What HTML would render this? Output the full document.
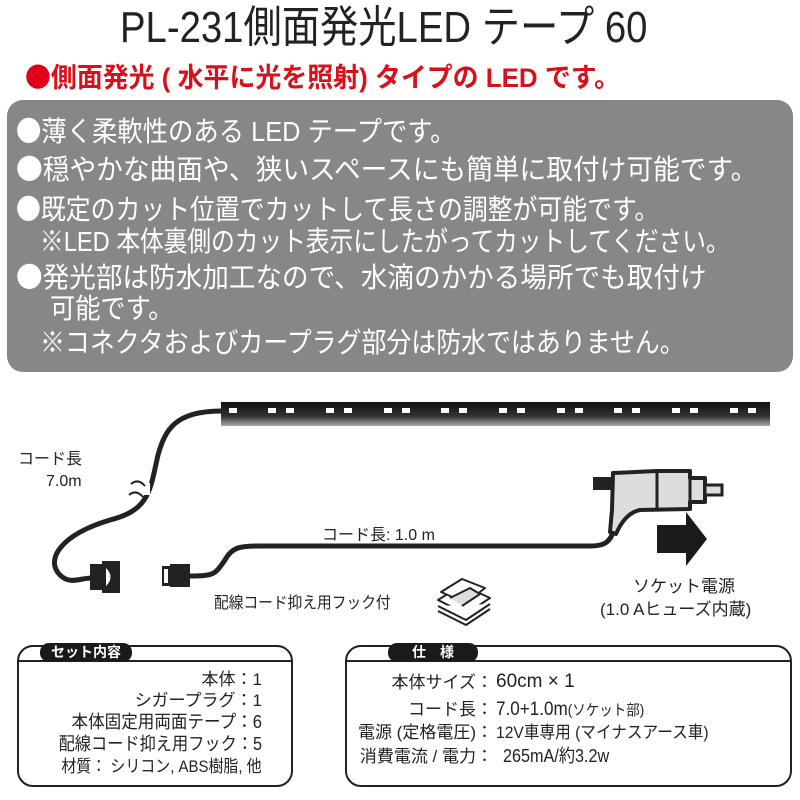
<!DOCTYPE html>
<html><head><meta charset="utf-8"><style>
body{margin:0;width:800px;height:800px;background:#fff;position:relative;overflow:hidden;font-family:"Liberation Sans","Noto Sans CJK JP",sans-serif;}
.a{position:absolute;white-space:nowrap;line-height:1;}
.g{position:absolute;left:7px;top:100px;width:786px;height:272px;background:#878787;border-radius:16px;}
.w{color:#fff;font-size:28px;transform-origin:0 0;}
.b{font-family:"Noto Sans CJK JP",sans-serif;}
.box{position:absolute;border:2px solid #222;border-radius:16px;}
.pill{position:absolute;background:#1a1a1a;color:#fff;font-weight:bold;font-size:14px;border-radius:9px;text-align:center;line-height:19px;}
.r{text-align:right;font-size:17px;color:#222;transform-origin:100% 0;}
</style></head><body>
<div class="a" style="left:120px;top:6px;font-size:44px;color:#222;transform:scaleX(0.87);transform-origin:0 0;">PL-231側面発光LED テープ 60</div>
<div class="a" style="left:25px;top:62px;font-size:27px;font-weight:bold;color:#d8101c;transform:scaleX(0.96);transform-origin:0 0;"><span class="b" style="color:#e0001a">●</span>側面発光 ( 水平に光を照射) タイプの LED です。</div>
<div class="g"></div>
<div class="a w" style="left:16px;top:116px;transform:scaleX(0.905)"><span class="b">●</span>薄く柔軟性のある LED テープです。</div>
<div class="a w" style="left:16px;top:154px;transform:scaleX(0.954)"><span class="b">●</span>穏やかな曲面や、狭いスペースにも簡単に取付け可能です。</div>
<div class="a w" style="left:16px;top:194px;transform:scaleX(0.888)"><span class="b">●</span>既定のカット位置でカットして長さの調整が可能です。</div>
<div class="a w" style="left:40px;top:228px;transform:scaleX(0.846)">※LED 本体裏側のカット表示にしたがってカットしてください。</div>
<div class="a w" style="left:16px;top:262px;transform:scaleX(0.95)"><span class="b">●</span>発光部は防水加工なので、水滴のかかる場所でも取付け</div>
<div class="a w" style="left:50px;top:295px;transform:scaleX(0.9)">可能です。</div>
<div class="a w" style="left:40px;top:329px;transform:scaleX(0.89)">※コネクタおよびカープラグ部分は防水ではありません。</div>

<svg style="position:absolute;left:0;top:0" width="800" height="800">
<defs><linearGradient id="lg" x1="0" y1="0" x2="0" y2="1"><stop offset="0" stop-color="#111"/><stop offset="0.6" stop-color="#333"/><stop offset="1" stop-color="#aaa"/></linearGradient></defs>
<rect x="221" y="402" width="549" height="24" fill="url(#lg)"/>
<rect x="229" y="408" width="8" height="5" fill="#fff"/>
<g fill="#fff">
<rect x="268" y="408" width="8" height="5"/><rect x="286" y="408" width="8" height="5"/>
<rect x="326" y="408" width="8" height="5"/><rect x="344" y="408" width="8" height="5"/>
<rect x="384" y="408" width="8" height="5"/><rect x="402" y="408" width="8" height="5"/>
<rect x="441" y="408" width="8" height="5"/><rect x="459" y="408" width="8" height="5"/>
<rect x="499" y="408" width="8" height="5"/><rect x="517" y="408" width="8" height="5"/>
<rect x="557" y="408" width="8" height="5"/><rect x="575" y="408" width="8" height="5"/>
<rect x="614" y="408" width="8" height="5"/><rect x="632" y="408" width="8" height="5"/>
<rect x="672" y="408" width="8" height="5"/><rect x="690" y="408" width="8" height="5"/>
<rect x="730" y="408" width="8" height="5"/><rect x="748" y="408" width="8" height="5"/>
</g>
<path d="M221 411 C175 411 165 430 158 455 C150 490 150 510 110 520 C60 535 45 560 60 575 C70 585 80 578 92 578" fill="none" stroke="#222" stroke-width="5"/>
<rect x="128" y="483" width="22" height="12" fill="#fff"/>
<path d="M131 484 q7 -6 14 2 M129 495 q7 -6 14 2" fill="none" stroke="#222" stroke-width="2"/>
<rect x="90" y="564" width="12" height="26" fill="#222"/>
<path d="M102 561 h18 v32 h-18 z" fill="#222"/>
<path d="M106 568 q9 9 0 18" fill="#fff"/>
<rect x="162" y="566" width="8" height="20" fill="#222"/>
<rect x="164" y="569" width="4" height="14" fill="#fff"/>
<rect x="170" y="564" width="20" height="23" fill="#222"/>
<path d="M190 576 C215 576 215 574 225 560 C232 547 240 546 260 546 L590 546 C608 546 610 540 615 528" fill="none" stroke="#222" stroke-width="5"/>
<rect x="593" y="477" width="22" height="13" fill="#222"/>
<path d="M613 473 L657 471 L690 471 L690 478 L705 478 L705 502 L690 502 L690 509 L640 510 C630 512 622 520 616 534 L610 532 L612 510 Z" fill="#ddd" stroke="#222" stroke-width="4" stroke-linejoin="round"/>
<line x1="657" y1="471" x2="657" y2="510" stroke="#222" stroke-width="3"/>
<line x1="690" y1="471" x2="690" y2="509" stroke="#222" stroke-width="3"/>
<rect x="705" y="485" width="17" height="10" fill="#ddd" stroke="#222" stroke-width="3"/>
<path d="M657 525 H686 V512 L707 539 L686 566 V553 H657 Z" fill="#1a1a1a"/>
<g stroke="#222" stroke-width="2" fill="#fff" stroke-linejoin="round">
<path d="M438 600 L462 585 L490 598 L466 614 Z"/>
<path d="M438 606 L466 620 L490 604"/>
<path d="M438 611 L466 625 L490 609" fill="none"/>
<path d="M441 592 L462 579 L485 588 L466 603 Z" fill="#fff"/>
<path d="M450 598 L470 588 L480 594 L462 606" fill="#ddd"/>
</g>
</svg>
<div class="a" style="left:18px;top:452px;font-size:16px;color:#222;">コード長</div>
<div class="a" style="left:46px;top:474px;font-size:16px;color:#222;">7.0m</div>
<div class="a" style="left:322px;top:528px;font-size:16px;color:#222;">コード長: 1.0 m</div>
<div class="a" style="left:214px;top:596px;font-size:16px;color:#222;transform:scaleX(0.92);transform-origin:0 0">配線コード抑え用フック付</div>
<div class="a" style="left:633px;top:578px;font-size:17px;color:#222;">ソケット電源</div>
<div class="a" style="left:600px;top:601px;font-size:17px;color:#222;">(1.0 Aヒューズ内蔵)</div>

<div class="box" style="left:17px;top:645px;width:272px;height:138px;"></div>
<div style="position:absolute;left:19px;top:660px;width:272px;height:2px;background:#222"></div>
<div class="pill" style="left:40px;top:643px;width:92px;">セット内容</div>
<div class="a r" style="right:538px;top:671px;">本体：1</div>
<div class="a r" style="right:538px;top:692px;">シガープラグ：1</div>
<div class="a r" style="right:538px;top:713px;font-size:18px;transform:scaleX(0.92)">本体固定用両面テープ：6</div>
<div class="a r" style="right:538px;top:735px;font-size:18px;transform:scaleX(0.9)">配線コード抑え用フック：5</div>
<div class="a r" style="right:538px;top:758px;transform:scaleX(0.88)">材質： シリコン, ABS樹脂, 他</div>

<div class="box" style="left:345px;top:645px;width:443px;height:138px;"></div>
<div style="position:absolute;left:347px;top:660px;width:443px;height:2px;background:#222"></div>
<div class="pill" style="left:388px;top:643px;width:90px;">仕　様</div>
<div class="a r" style="right:307px;top:674px;">本体サイズ：</div>
<div class="a" style="left:496px;top:672px;font-size:19px;color:#222;">60cm × 1</div>
<div class="a r" style="right:307px;top:701px;">コード長：</div>
<div class="a" style="left:496px;top:700px;font-size:19px;color:#222;transform:scaleX(0.9);transform-origin:0 0">7.0+1.0m<span style="font-size:15px">(ソケット部)</span></div>
<div class="a r" style="right:307px;top:724px;">電源 (定格電圧)：</div>
<div class="a" style="left:496px;top:724px;font-size:17px;color:#222;transform:scaleX(0.92);transform-origin:0 0">12V車専用 (マイナスアース車)</div>
<div class="a r" style="right:307px;top:748px;">消費電流 / 電力：</div>
<div class="a" style="left:503px;top:747px;font-size:18px;color:#222;transform:scaleX(0.9);transform-origin:0 0">265mA/約3.2w</div>
</body></html>
